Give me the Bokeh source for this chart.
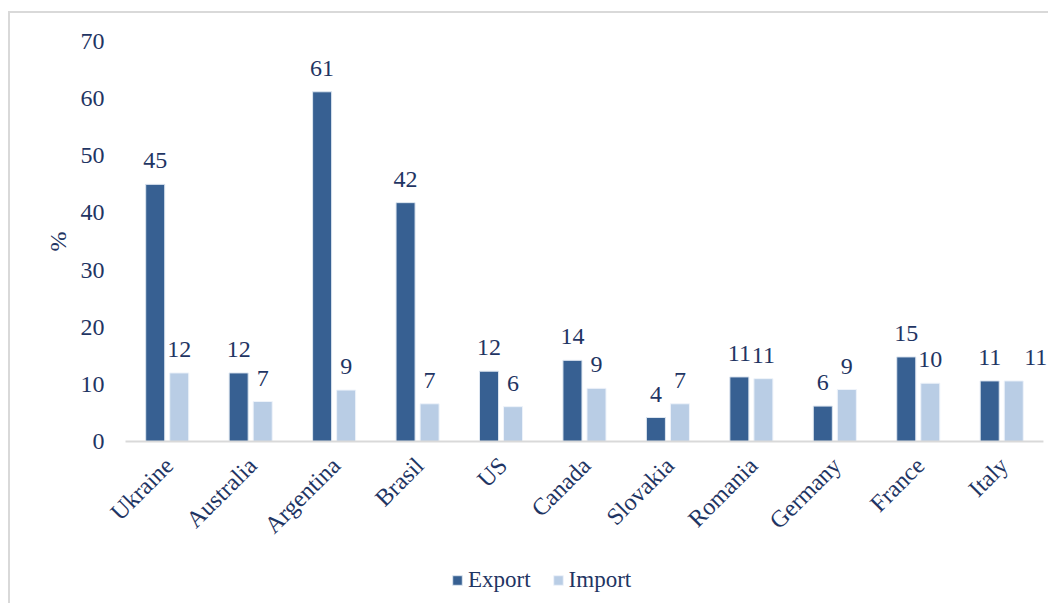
from math import pi
from bokeh.plotting import figure
from bokeh.models import (ColumnDataSource, Range1d, LabelSet, Label,
                          Legend, LegendItem)
from bokeh.transform import dodge
from bokeh.embed import file_html
from bokeh.resources import INLINE

countries = ["Ukraine", "Australia", "Argentina", "Brasil", "US", "Canada",
             "Slovakia", "Romania", "Germany", "France", "Italy"]
export_vals = [45.0, 12.0, 61.2, 41.8, 12.3, 14.2, 4.2, 11.3, 6.2, 14.8, 10.6]
import_vals = [12.0, 7.0, 9.0, 6.6, 6.1, 9.3, 6.6, 11.0, 9.1, 10.2, 10.6]
y_ticks = [0, 10, 20, 30, 40, 50, 60, 70]
y_title = "%"

EXP_COLOR = "#376092"
IMP_COLOR = "#b9cde5"
TEXT_COLOR = "#1f3563"
AXIS_COLOR = "#d9d9d9"
FONT = "Liberation Serif"

n = len(countries)
idx = list(range(n))
src = ColumnDataSource(dict(
    idx=idx,
    zero=[0] * n,
    names=countries,
    exp=export_vals,
    imp=import_vals,
    exp_lbl=[f"{round(v):d}" for v in export_vals],
    imp_lbl=[f"{round(v):d}" for v in import_vals],
    imp_xoff=[0] * (n - 1) + [22],
))
tick_src = ColumnDataSource(dict(
    y=y_ticks,
    x=[-0.5] * len(y_ticks),
    lbl=[str(t) for t in y_ticks],
))

# layout in pixels
W, H = 1040, 592
LEFT, TOP = 115, 28      # plot-area origin inside the canvas
PLOT_H = 400             # pixels from 0 to 70
CAT_W = 83.45            # pixels per category
y_max = y_ticks[-1]
px_per_y = PLOT_H / y_max
x_start = -0.5 - LEFT / CAT_W
x_end = x_start + W / CAT_W
y_top = y_max + TOP / px_per_y
y_bot = y_top - H / px_per_y

p = figure(width=W, height=H, output_backend="svg", toolbar_location=None,
           x_range=Range1d(x_start, x_end), y_range=Range1d(y_bot, y_top),
           min_border_left=0, min_border_right=0, min_border_top=0,
           min_border_bottom=0)
p.styles = {"border-top": f"2px solid {AXIS_COLOR}",
            "border-left": f"2px solid {AXIS_COLOR}",
            "margin-top": "11px", "margin-left": "8px"}
p.outline_line_color = None
p.xgrid.grid_line_color = None
p.ygrid.grid_line_color = None
p.background_fill_color = "white"
p.border_fill_color = "white"
p.xaxis.visible = False
p.yaxis.visible = False

bw = 0.228
off = 0.144
r_exp = p.vbar(x=dodge("idx", -off), top="exp", width=bw, source=src,
               fill_color=EXP_COLOR, line_color="#dde6f0", line_width=1)
r_imp = p.vbar(x=dodge("idx", off), top="imp", width=bw, source=src,
               fill_color=IMP_COLOR, line_color="#eef3fa", line_width=1)

# category axis baseline
p.segment(x0=[-0.5], x1=[n - 0.5], y0=[0], y1=[0], line_color=AXIS_COLOR,
          line_width=2)

common = dict(text_font=FONT, text_font_size="24px", text_color=TEXT_COLOR,
              text_align="center", text_baseline="alphabetic", y_offset=16)
p.add_layout(LabelSet(x=dodge("idx", -off), y="exp", text="exp_lbl",
                      source=src, **common))
p.add_layout(LabelSet(x=dodge("idx", off), y="imp", text="imp_lbl",
                      x_offset="imp_xoff", source=src, **common))

# category labels (rotated)
p.add_layout(LabelSet(x="idx", y="zero", text="names", source=src,
                      angle=pi / 4, text_align="right", text_baseline="middle",
                      x_offset=2, y_offset=-20, text_font=FONT,
                      text_font_size="24px", text_color=TEXT_COLOR))

# value axis labels
p.add_layout(LabelSet(x="x", y="y", text="lbl", source=tick_src,
                      text_align="right", text_baseline="middle",
                      x_offset=-21, text_font=FONT, text_font_size="24px",
                      text_color=TEXT_COLOR))
p.add_layout(Label(x=-0.5, y=y_max / 2, text=y_title, angle=pi / 2,
                   text_align="center", text_baseline="middle", x_offset=-68,
                   text_font=FONT, text_font_size="24px",
                   text_color=TEXT_COLOR))

legend = Legend(items=[LegendItem(label="Export", renderers=[r_exp]),
                       LegendItem(label="Import", renderers=[r_imp])],
                orientation="horizontal", location=(326 + LEFT, 12),
                label_text_font=FONT, label_text_font_size="23px",
                label_text_color=TEXT_COLOR, glyph_width=12, glyph_height=12,
                label_standoff=5, spacing=21, padding=2, margin=0,
                border_line_color=None, background_fill_alpha=0,
                label_height=20)
p.add_layout(legend, "center")

open("out.html", "w").write(file_html(p, INLINE))
